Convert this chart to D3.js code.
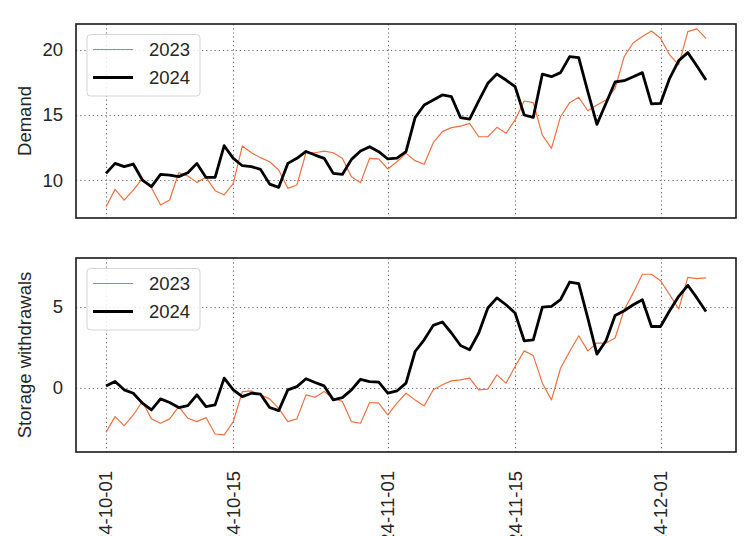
<!DOCTYPE html>
<html lang="en">
<head>
<meta charset="utf-8">
<title>Demand and storage withdrawals</title>
<script src="https://d3js.org/d3.v7.min.js"></script>
<style>
  body { margin: 0; background: #fff; }
  svg { display: block; font-family: "Liberation Sans", Arial, Helvetica, sans-serif; }
  .tick-label { fill: #262626; font-size: 18.5px; }
  .axis-title { fill: #262626; font-size: 18.5px; }
  .grid line { stroke: #666; stroke-width: 1.1; stroke-dasharray: 1.2, 3; }
</style>
</head>
<body>
<svg id="chart" width="750" height="536"></svg>
<script>
// daily values, 2024-10-01 .. 2024-12-06 (same calendar days for 2023)
var startDate = new Date(2024, 9, 1);

var demand2023 = [7.95, 9.28, 8.46, 9.23, 10.1, 9.4, 8.08, 8.46, 10.56, 10.31,
  9.82, 10.21, 9.18, 8.85, 9.74, 12.62, 12.1, 11.72, 11.41, 10.77,
  9.36, 9.62, 12.1, 12.1, 12.23, 12.1, 11.67, 10.26, 9.8, 11.67,
  11.62, 10.85, 11.41, 12.05, 11.49, 11.21, 12.87, 13.72, 14.03, 14.15,
  14.36, 13.33, 13.33, 14.05, 13.59, 14.62, 16.08, 15.95, 13.46, 12.44,
  14.87, 15.95, 16.36, 15.33, 15.77, 16.15, 17.05, 19.49, 20.56, 21.03,
  21.46, 20.9, 19.62, 18.85, 21.41, 21.62, 20.9];

var demand2024 = [10.51, 11.28, 11.03, 11.23, 10.0, 9.49, 10.43, 10.38, 10.26, 10.56,
  11.28, 10.2, 10.2, 12.64, 11.67, 11.1, 11.03, 10.82, 9.69, 9.44,
  11.28, 11.67, 12.2, 11.92, 11.67, 10.51, 10.43, 11.59, 12.23, 12.56,
  12.18, 11.62, 11.69, 12.18, 14.8, 15.77, 16.15, 16.54, 16.41, 14.8,
  14.69, 16.08, 17.44, 18.15, 17.69, 17.18, 15.0, 14.82, 18.15, 17.95,
  18.26, 19.49, 19.41, 16.8, 14.28, 15.9, 17.54, 17.64, 17.95, 18.26,
  15.85, 15.9, 17.82, 19.18, 19.8, 18.77, 17.69];

var storage2023 = [-2.74, -1.77, -2.33, -1.67, -0.84, -1.91, -2.18, -1.91, -1.15, -1.87,
  -2.08, -1.83, -2.84, -2.9, -2.08, -0.23, -0.19, -0.43, -0.68, -1.26,
  -2.08, -1.91, -0.43, -0.58, -0.23, -0.64, -0.84, -2.08, -2.18, -0.9,
  -0.94, -1.67, -0.94, -0.33, -0.74, -1.11, -0.12, 0.19, 0.43, 0.49,
  0.6, -0.12, -0.08, 0.8, 0.29, 1.32, 2.28, 1.99, 0.29, -0.74,
  1.21, 2.24, 3.21, 2.28, 2.76, 2.76, 3.07, 4.81, 5.85, 7.0,
  7.0, 6.6, 5.74, 4.86, 6.81, 6.73, 6.77];

var storage2024 = [0.12, 0.39, -0.12, -0.33, -0.94, -1.36, -0.68, -0.9, -1.21, -1.09,
  -0.43, -1.15, -1.05, 0.6, -0.12, -0.54, -0.33, -0.39, -1.21, -1.4,
  -0.12, 0.08, 0.56, 0.33, 0.12, -0.74, -0.6, -0.12, 0.53, 0.39,
  0.35, -0.33, -0.19, 0.29, 2.24, 2.96, 3.85, 4.06, 3.38, 2.61,
  2.35, 3.38, 4.92, 5.54, 5.12, 4.61, 2.9, 2.96, 4.98, 5.02,
  5.43, 6.52, 6.42, 4.3, 2.08, 2.9, 4.46, 4.75, 5.12, 5.43,
  3.78, 3.78, 4.75, 5.64, 6.32, 5.54, 4.71];

var seriesNames = ['2023', '2024'];
var seriesColors = ['#f0703e', '#000000'];
var seriesWidths = [1.2, 2.8];

var xTickDates = [new Date(2024, 9, 1), new Date(2024, 9, 15), new Date(2024, 10, 1),
  new Date(2024, 10, 15), new Date(2024, 11, 1)];

var panels = [
  { title: 'Demand', series: [demand2023, demand2024], domain: [7.08, 22.0], ticks: [10, 15, 20], top: 24, bottom: 218 },
  { title: 'Storage withdrawals', series: [storage2023, storage2024], domain: [-3.95, 8.0], ticks: [0, 5], top: 258, bottom: 452 }
];

var left = 76, right = 736;
var svg = d3.select('#chart');

var dates = demand2023.map(function(d, i) { return d3.timeDay.offset(startDate, i); });
var pad = 3.3 * 864e5;
var x = d3.scaleTime()
  .domain([new Date(+dates[0] - pad), new Date(+dates[dates.length - 1] + pad)])
  .range([left, right]);

var fmt = d3.timeFormat('%Y-%m-%d');

panels.forEach(function(p, pi) {
  var y = d3.scaleLinear().domain(p.domain).range([p.bottom, p.top]);
  var g = svg.append('g');

  // dotted grid
  var grid = g.append('g').attr('class', 'grid');
  grid.selectAll('line.gx')
    .data(xTickDates)
    .enter()
    .append('line')
    .attr('x1', function(d) { return Math.round(x(d)) + 0.5; })
    .attr('x2', function(d) { return Math.round(x(d)) + 0.5; })
    .attr('y1', p.top)
    .attr('y2', p.bottom);
  grid.selectAll('line.gy')
    .data(p.ticks)
    .enter()
    .append('line')
    .attr('x1', left)
    .attr('x2', right)
    .attr('y1', function(d) { return Math.round(y(d)) + 0.5; })
    .attr('y2', function(d) { return Math.round(y(d)) + 0.5; });

  // y tick labels
  g.selectAll('text.ytick')
    .data(p.ticks)
    .enter()
    .append('text')
    .attr('class', 'tick-label')
    .attr('x', left - 13)
    .attr('y', function(d) { return y(d); })
    .attr('dy', '0.35em')
    .attr('text-anchor', 'end')
    .text(function(d) { return d; });

  g.append('text')
    .attr('class', 'axis-title')
    .attr('transform', 'translate(' + 31 + ',' + ((p.top + p.bottom) / 2) + ') rotate(-90)')
    .attr('text-anchor', 'middle')
    .text(p.title);

  // lines
  var clipId = 'clip' + pi;
  svg.append('clipPath').attr('id', clipId)
    .append('rect')
    .attr('x', left).attr('y', p.top)
    .attr('width', right - left).attr('height', p.bottom - p.top);

  var line = d3.line()
    .x(function(d, i) { return x(dates[i]); })
    .y(function(d) { return y(d); });

  p.series.forEach(function(s, si) {
    g.append('path')
      .datum(s)
      .attr('clip-path', 'url(#' + clipId + ')')
      .attr('fill', 'none')
      .attr('stroke', seriesColors[si])
      .attr('stroke-width', seriesWidths[si])
      .attr('stroke-linejoin', 'round')
      .attr('d', line);
  });

  // frame
  g.append('rect')
    .attr('x', left)
    .attr('y', p.top)
    .attr('width', right - left)
    .attr('height', p.bottom - p.top)
    .attr('fill', 'none')
    .attr('stroke', '#1a1a1a')
    .attr('stroke-width', 1.6);

  // legend
  var lg = g.append('g').attr('transform', 'translate(87,' + (p.top + 10.5) + ')');
  lg.append('rect')
    .attr('width', 113)
    .attr('height', 61.5)
    .attr('rx', 3.5)
    .attr('fill', '#fff')
    .attr('fill-opacity', 0.85)
    .attr('stroke', '#d4d4d4')
    .attr('stroke-width', 1);
  seriesNames.forEach(function(n, si) {
    var ly = 15 + si * 28;
    lg.append('line')
      .attr('x1', 6).attr('x2', 46)
      .attr('y1', ly).attr('y2', ly)
      .attr('stroke', seriesColors[si])
      .attr('stroke-width', seriesWidths[si]);
    lg.append('text')
      .attr('class', 'tick-label')
      .attr('x', 62)
      .attr('y', ly)
      .attr('dy', '0.35em')
      .text(n);
  });
});

// rotated date labels under the lower panel (cut off by the page edge)
svg.selectAll('text.xtick')
  .data(xTickDates)
  .enter()
  .append('text')
  .attr('class', 'tick-label')
  .attr('transform', function(d) { return 'translate(' + x(d) + ',471) rotate(-90)'; })
  .attr('dy', '0.35em')
  .attr('text-anchor', 'end')
  .text(function(d) { return fmt(d); });
</script>
</body>
</html>
